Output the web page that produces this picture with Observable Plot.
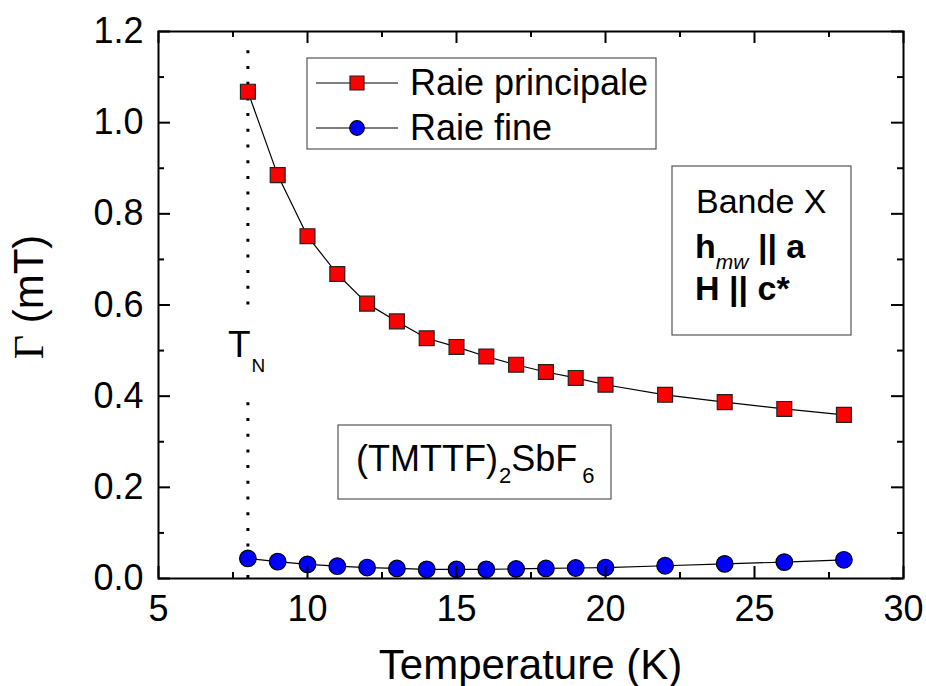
<!DOCTYPE html>
<html><head><meta charset="utf-8">
<script src="https://cdn.jsdelivr.net/npm/d3@7"></script>
<script src="https://cdn.jsdelivr.net/npm/@observablehq/plot@0.6"></script>
<style>
html,body{margin:0;padding:0;background:#fff;}
</style>
</head><body><div id="chart"></div>
<script>
// ---- data ----
const temperature = [8, 9, 10, 11, 12, 13, 14, 15, 16, 17, 18, 19, 20, 22, 24, 26, 28];
const raiePrincipale = [1.068, 0.885, 0.751, 0.668, 0.603, 0.564, 0.527, 0.508, 0.487, 0.469, 0.453, 0.440, 0.425, 0.403, 0.387, 0.372, 0.359];
const raieFine = [0.044, 0.037, 0.031, 0.027, 0.024, 0.022, 0.020, 0.020, 0.020, 0.021, 0.022, 0.023, 0.024, 0.028, 0.032, 0.036, 0.041];
const seriesNames = ["Raie principale", "Raie fine"];
const xTicks = [5, 10, 15, 20, 25, 30];
const xMinor = [7.5, 12.5, 17.5, 22.5, 27.5];
const yTicks = [0, 0.2, 0.4, 0.6, 0.8, 1.0, 1.2];
const yMinor = [0.1, 0.3, 0.5, 0.7, 0.9, 1.1];
const neelTemperature = 8;
const neelSegments = [{y1: 0, y2: 0.39}, {y1: 0.6, y2: 1.17}];

// ---- layout ----
const W = 926, H = 686, mL = 158, mR = 23, mT = 31, mB = 108;
const plotW = W - mL - mR, plotH = H - mT - mB;
const rows = temperature.map((t, i) => ({t, principale: raiePrincipale[i], fine: raieFine[i]}));
const tickStyle = {stroke: "#000", strokeWidth: 2};

const chart = Plot.plot({
  width: W, height: H,
  marginLeft: mL, marginRight: mR, marginTop: mT, marginBottom: mB,
  style: {fontFamily: "'Liberation Sans', Arial, sans-serif", background: "#fff", color: "#000"},
  x: {domain: [5, 30]},
  y: {domain: [0, 1.2]},
  marks: [
    Plot.ruleX(neelSegments, {x: () => neelTemperature, y1: "y1", y2: "y2", stroke: "#000", strokeWidth: 3, strokeDasharray: "3 12.7"}),
    Plot.line(rows, {x: "t", y: "principale", stroke: "#000", strokeWidth: 1.2}),
    Plot.line(rows, {x: "t", y: "fine", stroke: "#000", strokeWidth: 1.2}),
    Plot.dot(rows, {x: "t", y: "principale", symbol: "square", r: 8.4, fill: "#ff0000", stroke: "#222", strokeWidth: 1.2}),
    Plot.dot(rows, {x: "t", y: "fine", symbol: "circle", r: 8.3, fill: "#0000ff", stroke: "#000", strokeWidth: 1.2}),
    // inward tick marks on all four sides
    Plot.ruleX(xTicks, {x: d => d, insetTop: plotH - 12, ...tickStyle}),
    Plot.ruleX(xTicks, {x: d => d, insetBottom: plotH - 12, ...tickStyle}),
    Plot.ruleX(xMinor, {x: d => d, insetTop: plotH - 6, ...tickStyle}),
    Plot.ruleX(xMinor, {x: d => d, insetBottom: plotH - 6, ...tickStyle}),
    Plot.ruleY(yTicks, {y: d => d, insetRight: plotW - 12, ...tickStyle}),
    Plot.ruleY(yTicks, {y: d => d, insetLeft: plotW - 12, ...tickStyle}),
    Plot.ruleY(yMinor, {y: d => d, insetRight: plotW - 6, ...tickStyle}),
    Plot.ruleY(yMinor, {y: d => d, insetLeft: plotW - 6, ...tickStyle}),
    Plot.frame({stroke: "#000", strokeWidth: 2}),
    Plot.axisX({ticks: xTicks, tickSize: 0, tickPadding: 17, fontSize: 36, tickFormat: d => String(d), label: null}),
    Plot.axisY({ticks: yTicks, tickSize: 0, tickPadding: 15, fontSize: 36, tickFormat: d3.format(".1f"), label: null})
  ]
});
document.getElementById("chart").appendChild(chart);

// ---- annotations, legend, axis titles ----
const svg = d3.select(chart);
const g = svg.append("g").attr("font-family", "'Liberation Sans', Arial, sans-serif")
  .attr("fill", "#000").attr("text-anchor", "start");

// axis titles
g.append("text").attr("x", mL + plotW / 2).attr("y", 679).attr("text-anchor", "middle")
  .attr("font-size", 42).text("Temperature (K)");
const yl = g.append("text").attr("transform", "translate(43,297) rotate(-90)").attr("text-anchor", "middle").attr("font-size", 42);
yl.append("tspan").attr("font-family", "'Liberation Serif', 'Times New Roman', serif").text("Γ");
yl.append("tspan").text(" (mT)");

// legend
g.append("rect").attr("x", 307).attr("y", 58).attr("width", 349).attr("height", 91)
  .attr("fill", "#fff").attr("stroke", "#555").attr("stroke-width", 1.2);
const legendRows = [
  {name: seriesNames[0], cy: 83, base: 95, sym: d3.symbolSquare, size: 196, fill: "#ff0000", stroke: "#222"},
  {name: seriesNames[1], cy: 128, base: 140, sym: d3.symbolCircle, size: Math.PI * 7.3 * 7.3, fill: "#0000ff", stroke: "#000"}
];
for (const r of legendRows) {
  g.append("line").attr("x1", 316).attr("x2", 398).attr("y1", r.cy).attr("y2", r.cy).attr("stroke", "#000").attr("stroke-width", 1.2);
  g.append("path").attr("d", d3.symbol(r.sym, r.size)()).attr("transform", `translate(357,${r.cy})`)
    .attr("fill", r.fill).attr("stroke", r.stroke).attr("stroke-width", 1.2);
  g.append("text").attr("x", 410).attr("y", r.base).attr("font-size", 36).text(r.name);
}

// Bande X box
g.append("rect").attr("x", 672).attr("y", 166).attr("width", 179).attr("height", 169)
  .attr("fill", "#fff").attr("stroke", "#555").attr("stroke-width", 1.2);
g.append("text").attr("x", 696).attr("y", 213).attr("font-size", 34).text("Bande X");
const t2 = g.append("text").attr("x", 695).attr("y", 258).attr("font-size", 34);
t2.append("tspan").attr("font-weight", "bold").text("h");
t2.append("tspan").attr("font-style", "italic").attr("font-size", 21).attr("dy", 11).text("mw");
t2.append("tspan").attr("font-weight", "bold").attr("dy", -11).text(" || a");
const t3 = g.append("text").attr("x", 695).attr("y", 300).attr("font-size", 34).attr("font-weight", "bold");
t3.text("H || c*");

// compound box
g.append("rect").attr("x", 338).attr("y", 425).attr("width", 273).attr("height", 74)
  .attr("fill", "#fff").attr("stroke", "#555").attr("stroke-width", 1.2);
const t4 = g.append("text").attr("x", 356).attr("y", 471).attr("font-size", 36);
t4.append("tspan").text("(TMTTF)");
t4.append("tspan").attr("font-size", 22).attr("dy", 12).attr("dx", 1).text("2");
t4.append("tspan").attr("dy", -12).text("SbF");
t4.append("tspan").attr("font-size", 22).attr("dy", 12).attr("dx", 5).text("6");

// T_N
const tn = g.append("text").attr("x", 228).attr("y", 357).attr("font-size", 37);
tn.append("tspan").text("T");
tn.append("tspan").attr("font-size", 19).attr("dy", 15).attr("dx", 1).text("N");
</script>
</body></html>
